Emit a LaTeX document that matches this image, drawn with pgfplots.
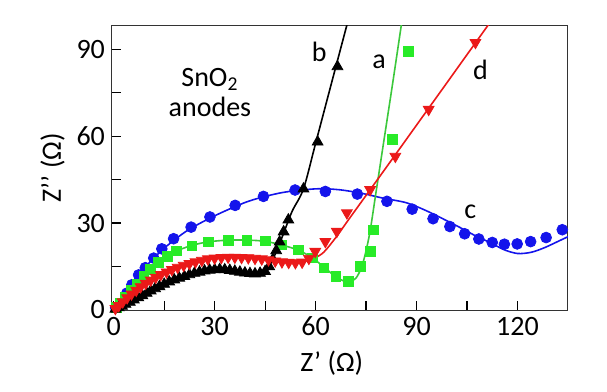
\documentclass[border=0pt]{standalone}
\usepackage{fontspec}
\setmainfont{Carlito}
\usepackage{pgfplots}
\pgfplotsset{compat=1.18}

\definecolor{cblue}{RGB}{20,20,235}
\definecolor{cgreen}{RGB}{40,235,40}
\definecolor{cgreenl}{RGB}{60,200,60}
\definecolor{cred}{RGB}{235,25,25}

\begin{document}
\begin{tikzpicture}[font=\fontsize{14}{16}\selectfont]
\begin{axis}[
  scale only axis, width=228pt, height=142pt,
  xmin=-0.5, xmax=135, ymin=0, ymax=98,
  xtick={0,30,60,90,120}, ytick={0,30,60,90},
  minor x tick num=1, minor y tick num=1,
  tick align=inside, xtick pos=bottom, ytick pos=left,
  major tick length=4.5pt, minor tick length=4.5pt,
  every tick/.style={black, line width=0.6pt},
  axis line style={black!80, line width=0.5pt},
  /pgf/number format/assume math mode=true,
  xlabel={Z’ (Ω)}, ylabel={Z’’ (Ω)},
  xlabel style={at={(axis description cs:0.482,0)}, anchor=north, yshift=-17pt},
  ylabel style={yshift=-1pt},
  clip=true,
]
% c (blue)
\addplot[cblue, line width=0.8pt, smooth] coordinates {
(0,0) (2.5,4) (5,8.5) (8,13) (12,18) (16,22.3) (22,27.5) (30,32.5) (40,37.5)
(50,40.5) (60,41.8) (67,41.5) (74,40.2) (80,38.6) (87,37) (93,34.2) (100,30.2)
(104,27.8) (108,25.3) (112,23.2) (116,20.8) (120,19.5) (124,19.9) (128,21.5)
(133,24.2) (135,25.3)};
\addplot[only marks, mark=*, mark size=2.7pt, cblue] coordinates {
(0.6,0.8) (2.4,2.3) (3.9,5.8) (5.4,8.7) (7.4,12.1) (9.4,14.6) (11.9,17.9)
(14.3,21.1) (17.8,24.6) (23.0,28.6) (28.6,32.1) (36.1,36.1) (44.5,39.2)
(53.9,41.4) (62.9,40.9) (72.4,40.0) (81.2,37.5) (88.7,34.8) (94.9,31.5)
(99.9,28.8) (104.3,26.3) (108.5,24.5) (112.5,23.3) (116.1,22.7) (119.9,22.8)
(123.9,23.6) (128.5,25.0) (133.3,27.7)};
% a (green)
\addplot[cgreenl, line width=0.8pt, smooth] coordinates {
(0,0) (2,2.5) (5,6.8) (9,11.7) (13,16.3) (18,20) (23,22.2) (28,23.5) (34,24.1)
(40,24.1) (45,23.7) (50,22.4) (55,20.6) (59,18) (62.5,14.8) (66,11.5)
(69.5,9.6) (72,11) (74,16) (76,26) (78,41) (80.5,60) (83,79) (85.5,98.5) (86,102)};
\addplot[only marks, mark=square*, mark size=2.4pt, cgreen] coordinates {
(0.8,0.8) (2,2.5) (3.5,4.5) (5.2,6.8) (7,9) (9,11.5) (11,14) (13.2,16.5)
(16,18.5) (18.7,20.4) (23.2,22.1) (28.1,23.5) (34.1,24) (39.6,24) (45,23.8)
(50,22.4) (54.9,20.8) (59,18) (62.5,14.5) (66,11.5) (69.8,9.8) (73.3,15)
(76.2,20.2) (77.2,27.7) (82.9,58.8) (87.6,89.2)};
% b (black)
\addplot[black, line width=0.8pt, smooth] coordinates {
(0,0) (3,1.7) (6,3.5) (10,6) (15,8.9) (20,11.2) (25,13) (30,13.9) (35,13.6)
(40,12.7) (43,12.6) (45.5,14) (47.5,18) (50,25) (53,34) (56.4,41.8)
(60,57.5) (65,79.5) (70,101.4)};
\addplot[only marks, mark=triangle*, mark size=3.1pt, black] coordinates {
(0.5,0.3) (1.5,0.8) (2.5,1.3) (3.5,2) (4.8,2.7) (6,3.5) (7.3,4.3) (8.5,5)
(9.8,5.8) (11,6.6) (12.3,7.4) (13.6,8.1) (15,8.9) (16.5,9.7) (18,10.4)
(19.5,11) (21,11.6) (22.5,12.2) (24,12.7) (25.5,13.1) (27,13.5) (28.5,13.8)
(30,13.9) (31.5,14) (33,13.9) (34.5,13.7) (36,13.4) (37.5,13.1) (39,12.8)
(40.5,12.6) (42,12.5) (43.5,12.7) (45,13.3) (46.2,15) (47.3,17.5) (48.3,20.5)
(49.3,23.5) (50.5,27) (51.9,31.1) (56.4,41.8) (60.6,58) (66.5,84)};
% d (red)
\addplot[cred, line width=0.8pt, smooth] coordinates {
(0,0) (3,3) (6,6.2) (10,9.6) (15,12.7) (20,15) (25,16.8) (30,17.9) (35,18.3)
(40,18.1) (45,17.5) (50,16.7) (55,16.4) (58,17.2) (62,19.5) (66,25)
(70,31.5) (80,47.6) (90,63.8) (100,80) (112,99.5)};
\addplot[only marks, mark=triangle*, mark options={rotate=180}, mark size=3.1pt, cred] coordinates {
(0.5,0.5) (1.5,1.5) (2.7,2.8) (4,4.2) (5.3,5.5) (6.7,6.8) (8,8) (9.5,9.2)
(11,10.3) (12.5,11.3) (14,12.2) (15.7,13.1) (17.3,13.9) (19,14.7) (20.8,15.4)
(22.5,16) (24.3,16.6) (26.2,17.1) (28,17.6) (30,17.9) (32,18.1) (34,18.2)
(36,18.2) (38,18.1) (40,18) (42,17.8) (44,17.6) (46,17.3) (48,16.9) (50,16.6)
(52,16.4) (54,16.3) (56,16.5) (58,17.8) (59.9,20.2) (62.9,23.6) (66.3,27.1)
(69.3,33.5) (76.2,41.5) (83.7,53) (93.6,69.2) (107.5,92.3)};
% labels
\node[align=center, font=\fontsize{14}{15}\selectfont] at (axis cs:28.6,75) {SnO\textsubscript{2}\\anodes};
\node at (axis cs:61.1,88.9) {b};
\node at (axis cs:78.9,85.5) {a};
\node at (axis cs:109,83) {d};
\node at (axis cs:106,33.9) {c};
\end{axis}
\pgfresetboundingbox
\path ([shift={(-56pt,-41pt)}]current axis.south west) rectangle ([shift={(247.5pt,155pt)}]current axis.south west);
\end{tikzpicture}
\end{document}
